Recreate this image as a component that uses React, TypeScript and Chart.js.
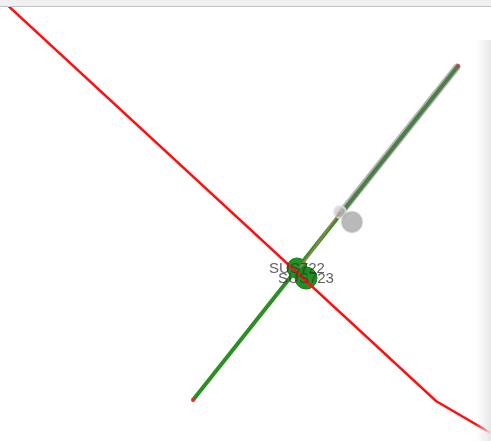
import React, { useEffect, useRef } from "react";
import { Chart, registerables } from "chart.js";

Chart.register(...registerables);

// Route (red) polyline, in map units
const redRouteX = [-10, 436, 520];
const redRouteY = [-11, 401, 450];

// Green track
const greenTrackX = [193, 458];
const greenTrackY = [400, 66];

// Grey (previous) track, under the upper part of the green track
const greyTrackX = [340, 457];
const greyTrackY = [214, 67];

// Faded link
const linkX = [300, 340];
const linkY = [268, 212];

// Grey markers
const greyX = [340, 352];
const greyY = [212, 222];
const greyR = [6, 10];

// Stations
const stationNames = ["SUS722", "SUS723"];
const stationX = [297, 306];
const stationY = [268, 278];

const pts = (xs: number[], ys: number[]) => xs.map((x, i) => ({ x, y: ys[i] }));

const labelPlugin = {
  id: "stationLabels",
  afterDatasetsDraw(chart: any) {
    const { ctx, scales } = chart;
    ctx.save();
    ctx.font = "15px 'Liberation Sans', Arial, sans-serif";
    ctx.textAlign = "center";
    ctx.textBaseline = "middle";
    ctx.fillStyle = "rgba(55,55,55,0.8)";
    stationNames.forEach((n, i) => {
      const px = scales.x.getPixelForValue(stationX[i]);
      const py = scales.y.getPixelForValue(stationY[i]);
      ctx.fillText(n, px, py + 1);
    });
    ctx.restore();
  },
};

export default function App() {
  const ref = useRef<HTMLCanvasElement>(null);
  useEffect(() => {
    const chart = new Chart(ref.current!, {
      type: "scatter",
      data: {
        datasets: [
          {
            data: pts(redRouteX, redRouteY),
            showLine: true,
            borderColor: "#ff1010",
            borderWidth: 2.5,
            pointRadius: 0,
          },
          {
            data: pts(linkX, linkY),
            showLine: true,
            borderColor: "rgba(215,120,120,0.6)",
            borderWidth: 2,
            pointRadius: 0,
          },
          {
            data: pts(greyX, greyY),
            pointRadius: greyR,
            pointBackgroundColor: ["rgba(200,200,200,0.7)", "rgba(140,140,140,0.6)"],
            pointBorderColor: ["rgba(225,225,225,0.8)", "rgba(175,175,175,0.6)"],
            pointBorderWidth: 2,
          },
          {
            data: pts(greyTrackX, greyTrackY),
            showLine: true,
            borderColor: "rgba(110,110,110,0.5)",
            borderWidth: 7,
            borderCapStyle: "round",
            pointRadius: 0,
          },
          {
            data: pts(greenTrackX, greenTrackY),
            showLine: true,
            borderColor: "#2b8f22",
            borderWidth: 4,
            pointRadius: 2,
            pointBackgroundColor: "#ff2020",
            pointBorderWidth: 0,
          },
          {
            data: pts(stationX, stationY),
            pointRadius: [10, 11],
            pointBackgroundColor: "rgba(20,140,20,0.95)",
            pointBorderColor: "rgba(20,120,20,0.95)",
            pointBorderWidth: 1,
          },
        ],
      },
      options: {
        animation: false,
        responsive: false,
        layout: { padding: 0, autoPadding: false },
        plugins: { legend: { display: false }, tooltip: { enabled: false } },
        scales: {
          x: { type: "linear", min: 0, max: 491, display: false },
          y: { type: "linear", min: 0, max: 441, reverse: true, display: false },
        },
      },
      plugins: [labelPlugin],
    });
    return () => chart.destroy();
  }, []);
  return (
    <div style={{ position: "fixed", left: 0, top: 0, width: 491, height: 441, background: "#fff", overflow: "hidden" }}>
      <canvas ref={ref} width={491} height={441} style={{ position: "absolute", left: 0, top: 0 }} />
      <div style={{ position: "absolute", left: 0, top: 0, width: 491, height: 6, background: "#f0f0f0", borderBottom: "1px solid #c4c4c8" }} />
      <div style={{ position: "absolute", left: 476, top: 40, width: 15, height: 401, background: "linear-gradient(to right, rgba(235,235,235,0), rgba(232,232,232,1))" }} />
    </div>
  );
}
